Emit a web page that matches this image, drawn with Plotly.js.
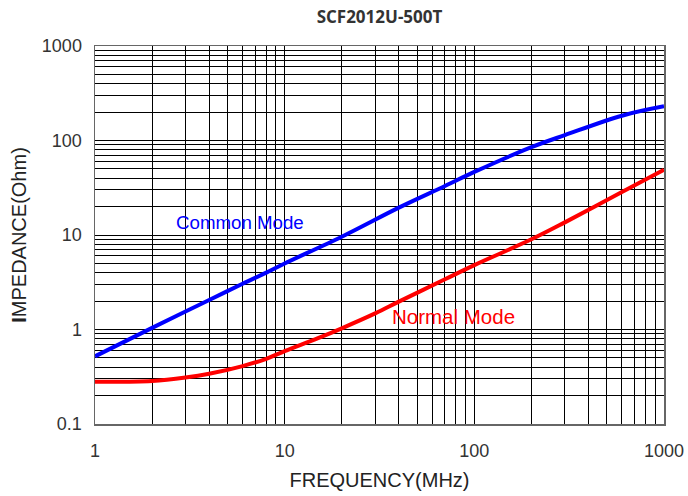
<!DOCTYPE html>
<html>
<head>
<meta charset="utf-8">
<script src="https://cdn.plot.ly/plotly-3.0.1.min.js"></script>
<style>html,body{margin:0;padding:0;background:#fff;}#chart{width:688px;height:496px;}</style>
</head>
<body>
<div id="chart"></div>
<script>
// Common Mode impedance (Ohm) vs frequency (MHz)
const commonFreq = [1, 2, 3, 4, 6, 8, 10, 20, 40, 70, 100, 200, 300, 600, 1000];
const commonZ    = [0.52, 1.04, 1.55, 2.05, 3.05, 4.0, 5.0, 9.6, 19.5, 33, 46.5, 85, 114, 183, 230];
// Normal Mode impedance (Ohm) vs frequency (MHz)
const normalFreq = [1, 2, 3, 4, 6, 8, 10, 15, 20, 30, 40, 70, 100, 200, 300, 600, 1000];
const normalZ    = [0.28, 0.285, 0.31, 0.34, 0.41, 0.49, 0.59, 0.81, 1.03, 1.48, 1.97, 3.4, 4.8, 9.0, 13.6, 28.5, 49];

// Grid values and tick labels
const xTickVals = [];
const xTickText = [];
[1, 10, 100].forEach(d => { for (let k = 1; k <= 9; k++) { xTickVals.push(k * d); xTickText.push(k === 1 ? String(d) : ''); } });
xTickVals.push(1000); xTickText.push('1000');
const yTickVals = [];
const yTickText = [];
[0.1, 1, 10, 100].forEach(d => { for (let k = 1; k <= 9; k++) { yTickVals.push(k * d); yTickText.push(k === 1 ? String(d) : ''); } });
yTickVals.push(1000); yTickText.push('1000');

const labelFont = {family: 'Liberation Sans, Arial, sans-serif', size: 18, color: '#333'};

const traces = [
  {x: commonFreq, y: commonZ, type: 'scatter', mode: 'lines', name: 'Common Mode',
   line: {color: '#0000ff', width: 4, shape: 'spline', smoothing: 1}},
  {x: normalFreq, y: normalZ, type: 'scatter', mode: 'lines', name: 'Normal Mode',
   line: {color: '#ff0000', width: 4, shape: 'spline', smoothing: 1}}
];

const layout = {
  width: 688, height: 496,
  margin: {l: 95, r: 24, t: 46, b: 72},
  paper_bgcolor: '#fff', plot_bgcolor: '#fff',
  showlegend: false,
  title: {text: '<b>SCF2012U-500T</b>', x: 0.5, xref: 'paper', y: 0.965, yanchor: 'middle',
          font: {family: 'Open Sans, sans-serif', size: 17, color: '#333'}},
  xaxis: {
    type: 'log', range: [0, 3],
    tickvals: xTickVals, ticktext: xTickText, ticks: '',
    showgrid: true, gridcolor: '#000', gridwidth: 1,
    showline: true, mirror: true, linecolor: '#666', linewidth: 1.5,
    zeroline: false, tickfont: labelFont, ticklabelstandoff: 10,
    title: {text: 'FREQUENCY(MHz)', standoff: 13,
            font: {family: 'Liberation Sans, Arial, sans-serif', size: 20, color: '#222'}}
  },
  yaxis: {
    type: 'log', range: [-1, 3],
    tickvals: yTickVals, ticktext: yTickText, ticks: '',
    showgrid: true, gridcolor: '#000', gridwidth: 1,
    showline: true, mirror: true, linecolor: '#666', linewidth: 1.5,
    zeroline: false, tickfont: labelFont, ticklabelstandoff: 8,
    title: {text: '<b>I</b>MPEDANCE(Ohm)', standoff: 10,
            font: {family: 'Liberation Sans, Arial, sans-serif', size: 20, color: '#222'}}
  },
  annotations: [
    {text: 'Common Mode', x: Math.log10(5.81), y: Math.log10(13.7), xref: 'x', yref: 'y',
     showarrow: false, font: {family: 'Liberation Sans, Arial, sans-serif', size: 18.7, color: '#0000ff'}},
    {text: 'Normal Mode', x: Math.log10(78), y: Math.log10(1.36), xref: 'x', yref: 'y',
     showarrow: false, font: {family: 'Liberation Sans, Arial, sans-serif', size: 20.5, color: '#ff0000'}}
  ]
};

Plotly.newPlot('chart', traces, layout, {displayModeBar: false, staticPlot: true});
</script>
</body>
</html>
